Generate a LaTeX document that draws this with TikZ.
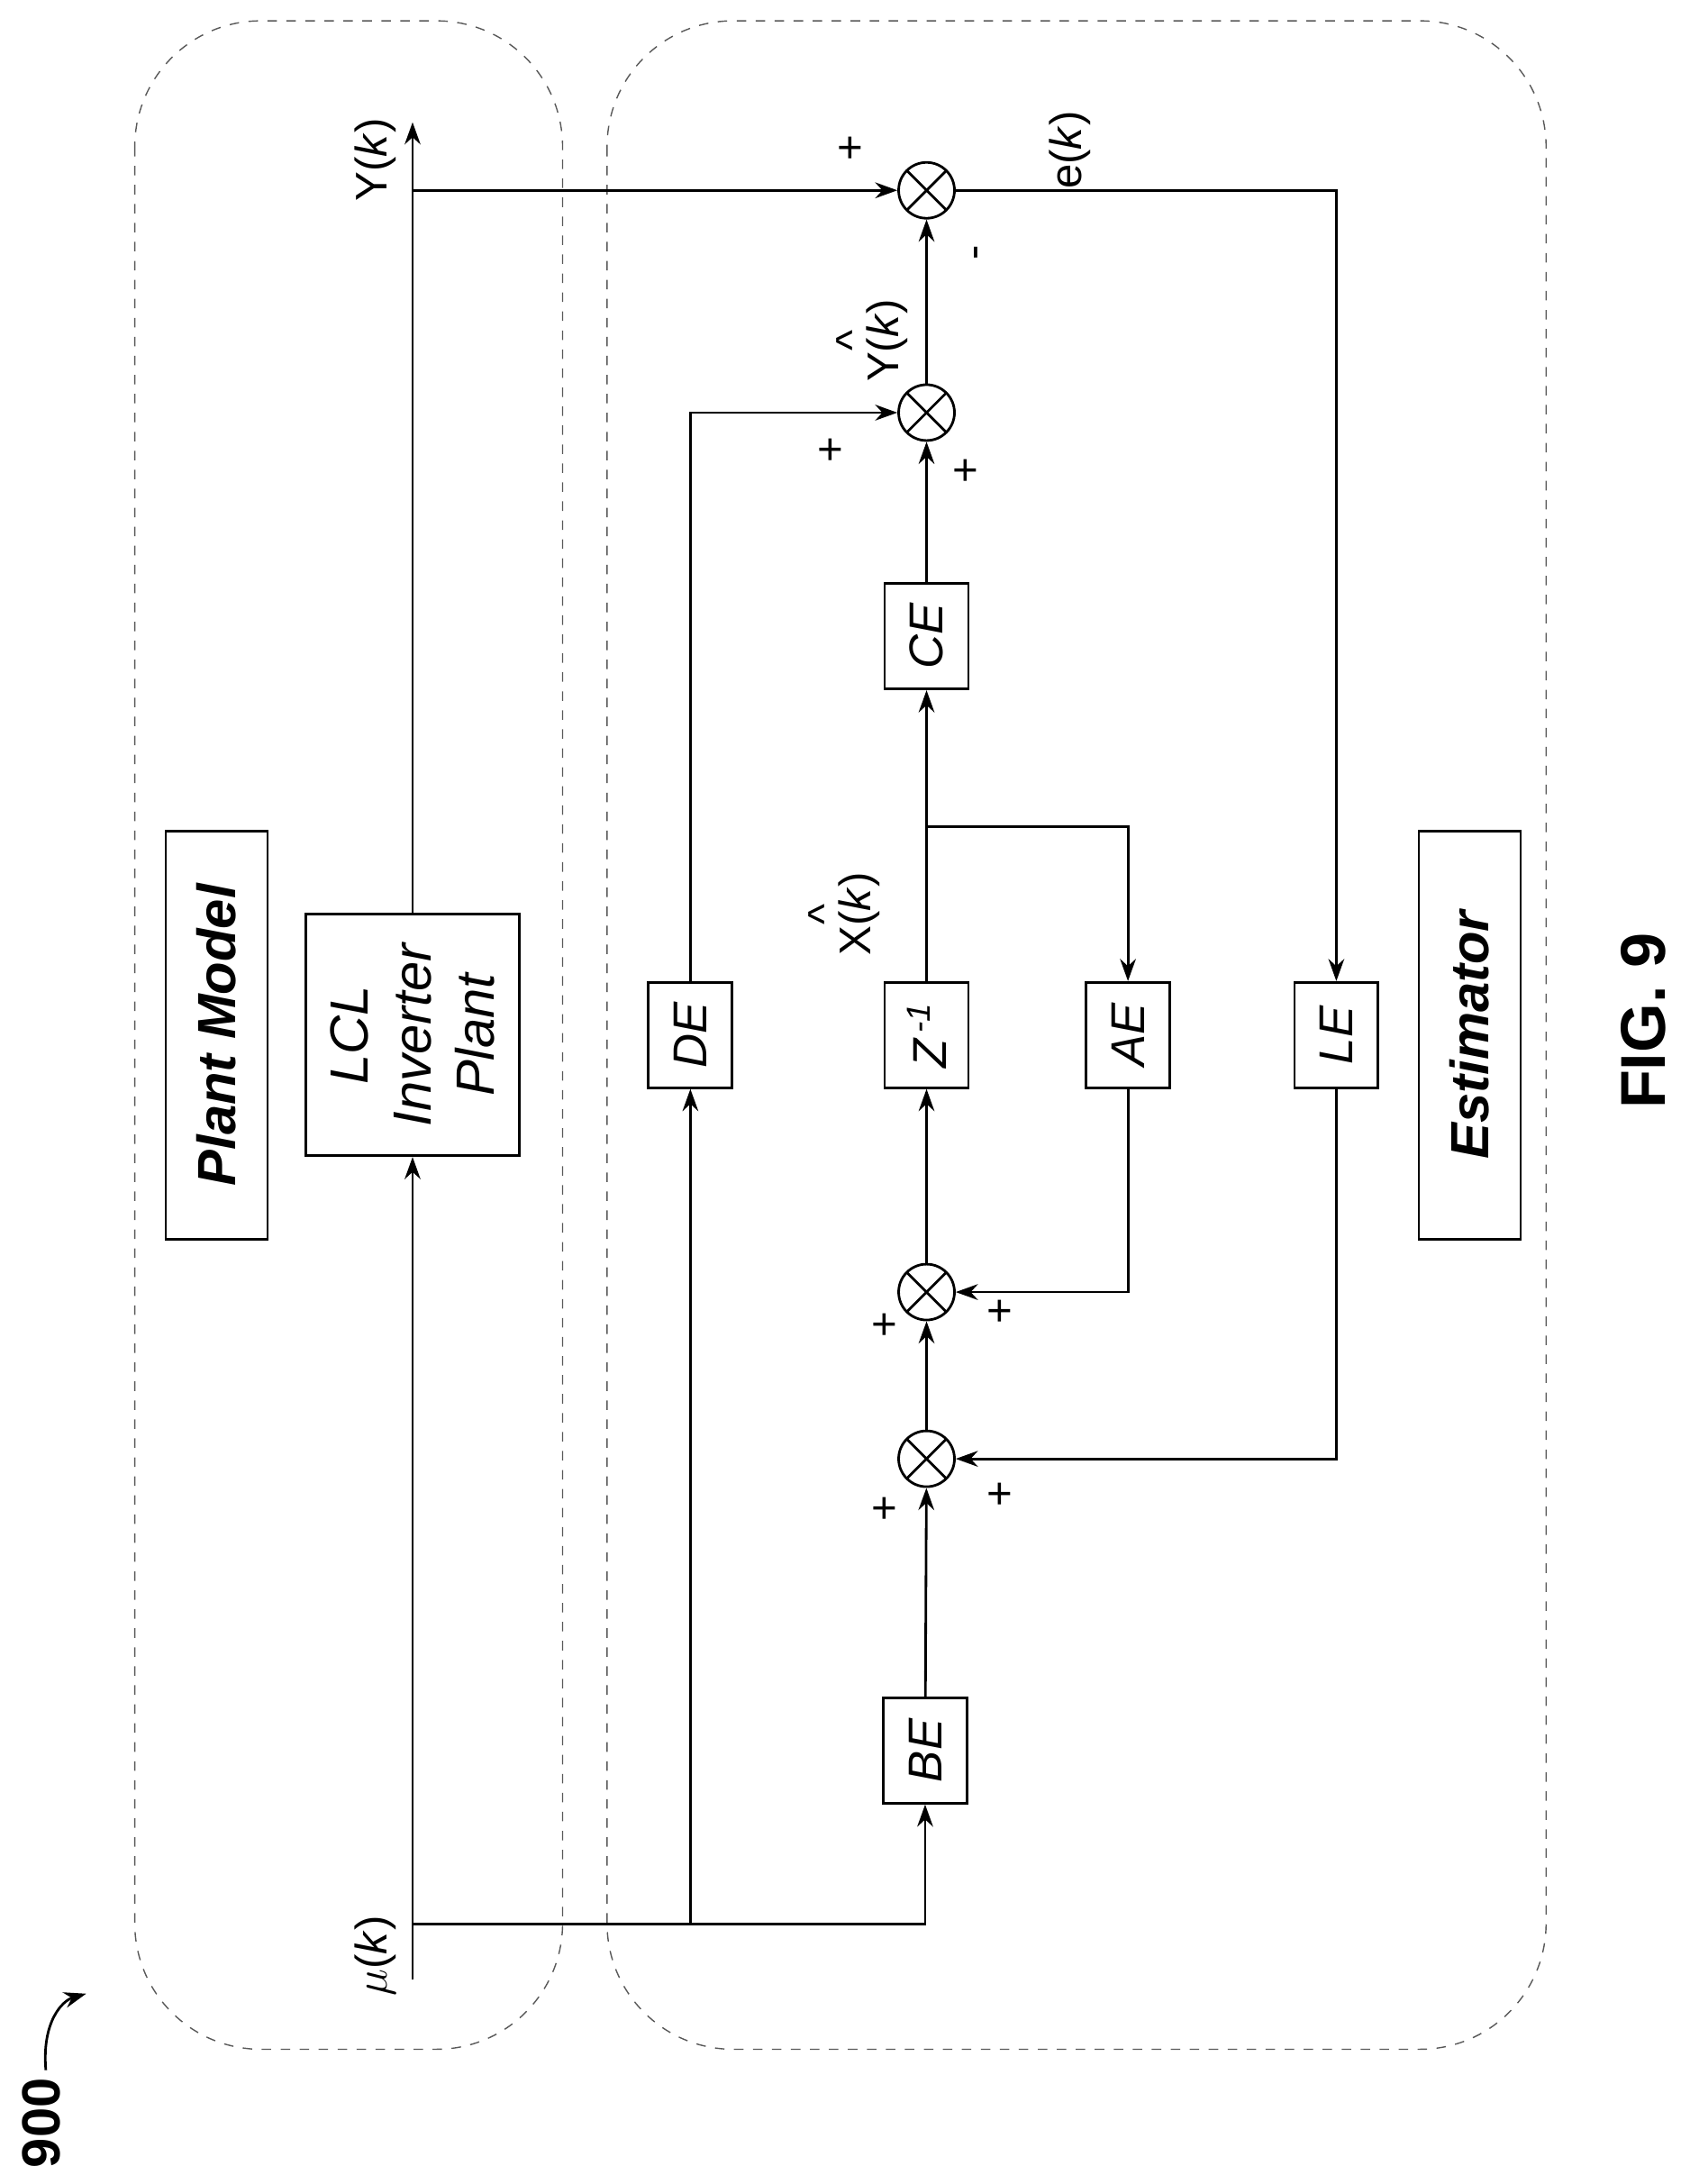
\documentclass[tikz,border=0pt]{standalone}
\usepackage{fontspec}
\setmainfont{Liberation Sans}
\usetikzlibrary{positioning, calc, arrows.meta}

\begin{document}
\begin{tikzpicture}[
    x=0.01542cm, y=-0.01542cm,
    font=\fontsize{14}{16}\selectfont,
    >={Stealth[length=7pt,width=5pt]},
    panel/.style={draw, dashed, gray!70!black, rounded corners=1.4cm, thin},
    block/.style={rectangle, draw, thick, rotate=90, minimum width=1.17cm, minimum height=0.93cm, font=\fontsize{15}{17}\selectfont\itshape},
    title/.style={rectangle, draw, thick, rotate=90, minimum width=4.53cm, minimum height=1.13cm, font=\fontsize{17}{19}\selectfont\bfseries\itshape},
    summer/.style={circle, draw, thick, minimum size=0.62cm, inner sep=0pt,
        path picture={\draw[thick] (path picture bounding box.south west) -- (path picture bounding box.north east)
        (path picture bounding box.north west) -- (path picture bounding box.south east);}},
    sig/.style={rotate=90},
    line/.style={thick}
]
\useasboundingbox (0,0) rectangle (1216,1572);

% panels
\draw[panel] (97,15) rectangle (405,1475);
\draw[panel] (437,15) rectangle (1113,1475);
\node[title] (plantlbl) at (156,745) {Plant Model};
\node[title] (estlbl) at (1058,745) {Estimator};

% plant
\node[block, minimum width=2.68cm, minimum height=2.37cm, align=center, font=\fontsize{17}{20}\selectfont\itshape] (plant) at (297,745) {LCL\\Inverter\\Plant};
\coordinate (mu) at (297,1425);
\coordinate (ytop) at (297,88);
\coordinate (ubr) at (297,1385);
\coordinate (ybr) at (297,137);
\node[sig] at (270,1408) {$\mu$(\textit{k})};
\node[sig] at (270,115) {Y(\textit{k})};
\draw[line,->] (mu) -- (plant);
\draw[line,->] (plant) -- (ytop);

% estimator blocks
\node[block] (BE) at (666,1260) {BE};
\node[block] (DE) at (497,745) {DE};
\node[block] (Z) at (667,745) {Z\textsuperscript{\,-1}};
\node[block] (AE) at (812,745) {AE};
\node[block] (LE) at (962,745) {LE};
\node[block] (CE) at (667,458) {CE};
\node[summer] (S1) at (667,1050) {};
\node[summer] (S2) at (667,930) {};
\node[summer] (S3) at (667,297) {};
\node[summer] (S4) at (667,137) {};

% connectors
\draw[line,->] (ubr) -| (BE);
\draw[line,->] (497,1385) -- (DE);
\draw[line,->] (DE) |- (S3);
\draw[line,->] (BE) -- (S1);
\draw[line,->] (S1) -- (S2);
\draw[line,->] (S2) -- (Z);
\draw[line,->] (Z) -- (CE);
\coordinate (xbr) at (667,595);
\draw[line,->] (xbr) -| (AE);
\draw[line,->] (AE) |- (S2);
\draw[line,->] (CE) -- (S3);
\draw[line,->] (S3) -- (S4);
\draw[line,->] (ybr) -- (S4);
\draw[line,->] (S4) -| (LE);
\draw[line,->] (LE) |- (S1);

% signs and labels
\node at (612,108) {+};
\node[sig] at (706,182) {-};
\node[sig] at (770,108) {e(\textit{k})};
\node at (598,325) {+};
\node at (695,340) {+};
\node[sig, align=center, inner sep=0pt] at (628,245) {\^{}\\[-6pt]Y(\textit{k})};
\node[sig, align=center, inner sep=0pt] at (608,658) {\^{}\\[-6pt]X(\textit{k})};
\node at (637,955) {+};
\node at (720,945) {+};
\node at (637,1087) {+};
\node at (720,1077) {+};

\node[sig, font=\fontsize{20}{22}\selectfont\bfseries] (fig) at (1183,735) {FIG. 9};
\node[sig, font=\fontsize{17}{19}\selectfont\bfseries] (num) at (30,1528) {900};
\draw[thick,->] (33,1490) .. controls (30,1455) and (45,1440) .. (62,1435);
\end{tikzpicture}
\end{document}
